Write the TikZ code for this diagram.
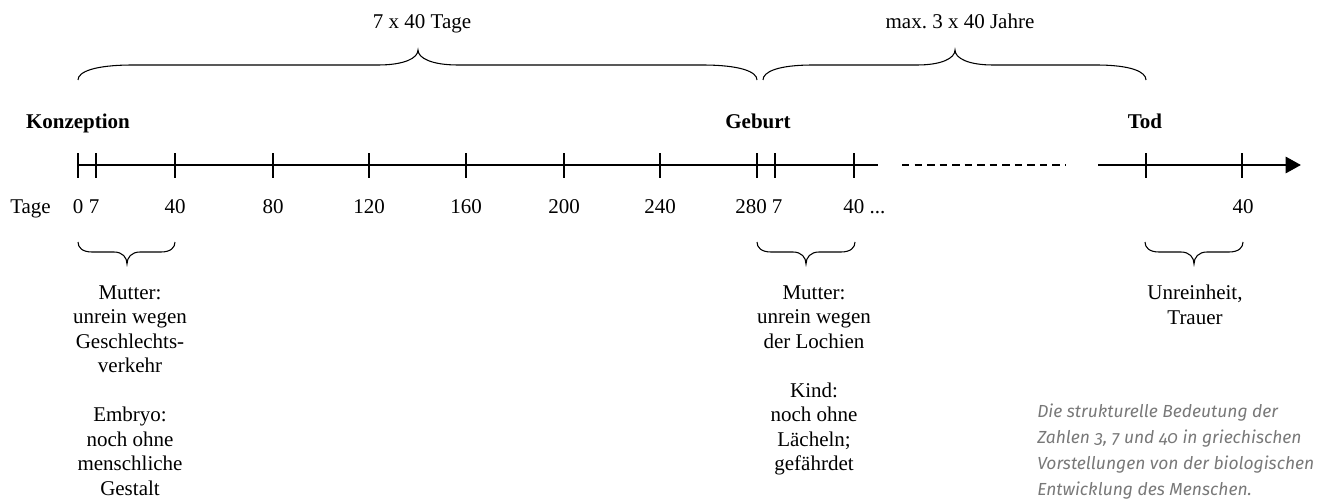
\documentclass[tikz,border=0pt]{standalone}
\usepackage{fontspec}
\setmainfont{Liberation Serif}
\newfontfamily\capfont[Numbers=OldStyle]{Fira Sans}
\usetikzlibrary{arrows.meta}
\frenchspacing

\definecolor{captiongray}{RGB}{120,120,120}

% Word-style curly brace: x1, x2, tip x, end y, flat y, tip y, end radius, cusp radius
\newcommand\wordbrace[8]{%
  \draw[bracepen] (#1,#4) .. controls (#1,{#4+0.55*(#5-#4)}) and ({#1+0.3*#7},#5) .. ({#1+#7},#5)
    -- ({#3-#8},#5) .. controls ({#3-0.35*#8},#5) and (#3,{#5+0.45*(#6-#5)}) .. (#3,#6)
    .. controls (#3,{#5+0.45*(#6-#5)}) and ({#3+0.35*#8},#5) .. ({#3+#8},#5)
    -- ({#2-#7},#5) .. controls ({#2-0.3*#7},#5) and (#2,{#4+0.55*(#5-#4)}) .. (#2,#4);}

\tikzset{
  bracepen/.style={line width=0.8pt},
  axis/.style={line width=2.2pt},
  tickmark/.style={line width=1.3pt},
  txt/.style={inner sep=0pt, font=\fontsize{15.75}{18.4}\selectfont},
  num/.style={txt, anchor=base},
  headlabel/.style={txt, anchor=base, font=\fontsize{15.75}{18.4}\selectfont\bfseries},
  note/.style={txt, align=center, anchor=north},
  caption/.style={inner sep=0pt, anchor=north west, align=left, text=captiongray,
    font=\fontsize{13.1}{19.5}\selectfont\capfont\itshape},
}

\begin{document}
\begin{tikzpicture}[x=0.75pt, y=-0.75pt]
  \useasboundingbox (0,0) rectangle (1323,503);

  % tick positions along the time axis
  \foreach \n/\x in {d0/78, d7/96, d40/175, d80/273, d120/369, d160/466, d200/564,
                     d240/660, d280/757, b7/775, b40/854, tod/1146, t40/1242} {
    \coordinate (\n) at (\x,165);
  }
  \coordinate (axisA) at (78,165);
  \coordinate (axisB) at (878,165);
  \coordinate (dashA) at (902,165);
  \coordinate (dashB) at (1066,165);
  \coordinate (axisC) at (1098,165);
  \coordinate (axisD) at (1301,165);

  % time axis
  \draw[axis] (axisA) -- (axisB);
  \draw[line width=1.5pt, dash pattern=on 5.6pt off 3.8pt] (dashA) -- (dashB);
  \draw[axis, -{Triangle[length=11.5pt, width=12pt]}] (axisC) -- (axisD);
  \foreach \n in {d0, d7, d40, d80, d120, d160, d200, d240, d280, b7, b40, tod, t40} {
    \draw[tickmark] ([yshift=-12.5*0.75pt]\n) -- ([yshift=12.5*0.75pt]\n);
  }

  % event labels
  \node[headlabel] (konz) at (78,128) {Konzeption};
  \node[headlabel] (geb) at (758,128) {Geburt};
  \node[headlabel] (tod lbl) at (1145,128) {Tod};

  % day labels
  \node[num, anchor=base west] (tage) at (10,213) {Tage};
  \node[num] (l0) at (78,213) {0};
  \node[num] (l7) at (94,213) {7};
  \node[num] (l40) at (175,213) {40};
  \node[num] (l80) at (273,213) {80};
  \node[num] (l120) at (369,213) {120};
  \node[num] (l160) at (466,213) {160};
  \node[num] (l200) at (564,213) {200};
  \node[num] (l240) at (660,213) {240};
  \node[num] (l280) at (751,213) {280};
  \node[num] (lb7) at (777,213) {7};
  \node[num, anchor=base west] (lb40) at (843,213) {40 ...};
  \node[num] (lt40) at (1243,213) {40};

  % spans above the axis
  \wordbrace{78}{757}{418}{80}{65}{50}{55}{40}
  \wordbrace{763}{1146}{955}{80}{65}{50}{50}{38}
  \node[num] (span1) at (422,29) {7 x 40 Tage};
  \node[num] (span2) at (960,29) {max. 3 x 40 Jahre};

  % spans below the axis
  \wordbrace{78}{175}{127}{242}{252}{264}{14}{13}
  \wordbrace{757}{855}{806}{242}{252}{264}{14}{13}
  \wordbrace{1145}{1243}{1194}{242}{252}{264}{14}{13}

  \node[note] (n1) at (130,285) {Mutter:\\unrein wegen\\Geschlechts-\\verkehr\\[18.4pt]Embryo:\\noch ohne\\menschliche\\Gestalt};
  \node[note] (n2) at (814,285) {Mutter:\\unrein wegen\\der Lochien\\[18.4pt]Kind:\\noch ohne\\Lächeln;\\gefährdet};
  \node[note] (n3) at (1195,285) {Unreinheit,\\Trauer};

  % caption
  \node[caption] (cap) at (1037,404) {Die strukturelle Bedeutung der\\Zahlen 3, 7 und 40 in griechischen\\Vorstellungen von der biologischen\\Entwicklung des Menschen.};
\end{tikzpicture}
\end{document}
